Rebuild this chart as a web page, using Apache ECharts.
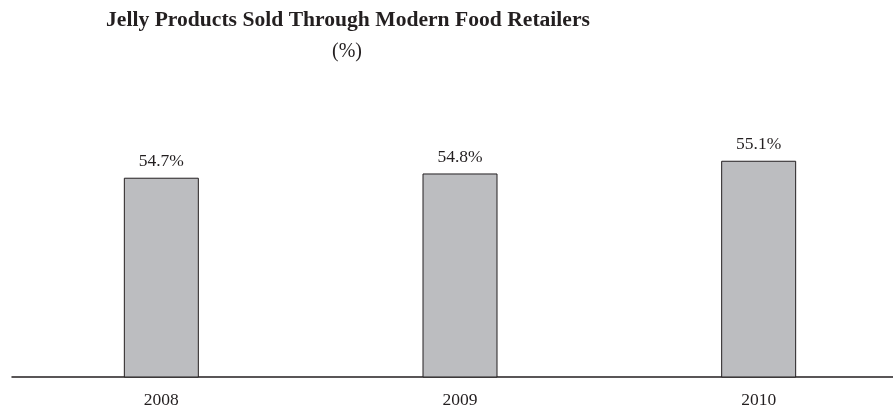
<!DOCTYPE html>
<html>
<head>
<meta charset="utf-8">
<script src="https://cdn.jsdelivr.net/npm/echarts@6/dist/echarts.min.js"></script>
<style>
  html, body { margin: 0; padding: 0; background: #ffffff; }
  #chart { width: 893px; height: 409px; }
</style>
</head>
<body>
<div id="chart"></div>
<script>
// Share of jelly products sold through modern food retailers, by year
const years = ['2008', '2009', '2010'];
const shares = [54.7, 54.8, 55.1];

const chart = echarts.init(document.getElementById('chart'), null, { renderer: 'canvas' });

const serif = '"Liberation Serif", "DejaVu Serif", serif';

chart.setOption({
  backgroundColor: '#ffffff',
  animation: false,
  title: [
    {
      text: 'Jelly Products Sold Through Modern Food Retailers',
      left: 343,
      top: 4,
      textAlign: 'center',
      textStyle: { fontFamily: serif, fontWeight: 'bold', fontSize: 21.6, color: '#231f20' }
    },
    {
      text: '(%)',
      left: 342,
      top: 37,
      textAlign: 'center',
      textStyle: { fontFamily: serif, fontWeight: 'normal', fontSize: 20, color: '#231f20' }
    }
  ],
  // the plot runs a little past the right edge so the three slots are evenly wide
  grid: { left: 12, width: 896, top: 122.6, bottom: 32, outerBoundsMode: 'none', containLabel: false },
  xAxis: {
    type: 'category',
    data: years,
    axisLine: { show: true, lineStyle: { color: '#231f20', width: 1.5 } },
    axisTick: { show: false },
    axisLabel: { fontFamily: serif, fontSize: 17.5, color: '#231f20', margin: 14 }
  },
  yAxis: {
    type: 'value',
    min: 50,
    max: 56,
    show: false,
    splitLine: { show: false }
  },
  series: [{
    type: 'bar',
    data: shares,
    barWidth: 75,
    itemStyle: { color: '#bcbdc0', borderColor: '#231f20', borderWidth: 1 },
    label: {
      show: true,
      position: 'top',
      distance: 7,
      formatter: p => p.value.toFixed(1) + '%',
      fontFamily: serif,
      fontSize: 17.5,
      color: '#231f20'
    }
  }]
});
</script>
</body>
</html>
